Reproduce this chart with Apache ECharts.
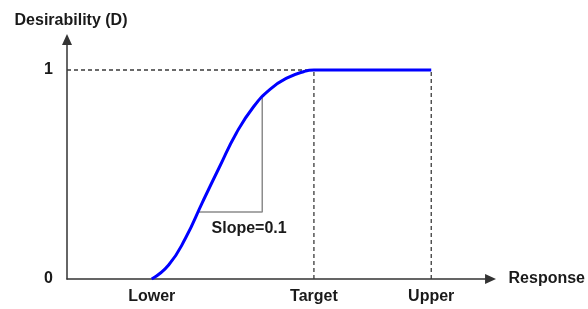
<!DOCTYPE html>
<html>
<head>
<meta charset="utf-8">
<script src="https://cdn.jsdelivr.net/npm/echarts@6/dist/echarts.min.js"></script>
<style>
  html, body { margin: 0; padding: 0; background: #fff; }
  #chart { width: 588px; height: 309px; }
</style>
</head>
<body>
<div id="chart"></div>
<script>
// desirability curve, x in arbitrary response units
let curveX = [20, 24, 28, 32, 36, 40, 44, 48, 52, 56, 58.3, 86];
let curveY = [0, 0.067, 0.196, 0.368, 0.536, 0.699, 0.823, 0.909, 0.962, 0.993, 1, 1];

// x positions of the three marked responses
let markNames = ['Lower', 'Target', 'Upper'];
let markValues = [20, 58.3, 86];

// slope triangle corners and its label
let slopeX = [30.8, 46.1, 46.1];
let slopeY = [0.32, 0.32, 0.866];
let slopeLabel = 'Slope=0.1';
let slopeLabelPos = [43, 0.24];

let yTicks = [0, 1];

let font = 'Liberation Sans, Arial, sans-serif';
let textColor = '#1a1a1a';

let zip = function(xs, ys){
    return xs.map((x, i) => [x, ys[i]]);
};

let dashStyle = {color: '#3a3a3a', width: 1.3, type: [4, 3]};
let dashed = function(points){
    return {
        type: 'line', data: points, symbol: 'none', silent: true,
        lineStyle: dashStyle, z: 1
    };
};

let chart = echarts.init(document.getElementById('chart'));

let option = {
    animation: false,
    grid: {left: 67, right: 95.5, top: 39.5, bottom: 30},
    xAxis: {
        type: 'value', min: 0, max: 100,
        name: 'Response', nameLocation: 'end', nameGap: 18,
        nameTextStyle: {fontFamily: font, fontWeight: 'bold', fontSize: 16, color: textColor, verticalAlign: 'middle'},
        axisLine: {lineStyle: {color: '#333', width: 1.5}, symbol: ['none', 'triangle'], symbolSize: [10, 11]},
        axisTick: {show: false},
        splitLine: {show: false},
        axisLabel: {
            customValues: markValues, margin: 10,
            fontFamily: font, fontWeight: 'bold', fontSize: 16, color: textColor,
            formatter: function(v){
                let i = markValues.findIndex(m => Math.abs(m - v) < 1e-6);
                return i >= 0 ? markNames[i] : '';
            }
        }
    },
    yAxis: {
        type: 'value', min: 0, max: 1.146,
        name: 'Desirability (D)', nameLocation: 'end', nameGap: 11,
        nameTextStyle: {fontFamily: font, fontWeight: 'bold', fontSize: 16, color: textColor, padding: [0, 0, 0, 8]},
        axisLine: {lineStyle: {color: '#333', width: 1.5}, symbol: ['none', 'triangle'], symbolSize: [10, 11]},
        axisTick: {show: false},
        splitLine: {show: false},
        axisLabel: {
            customValues: yTicks, margin: 14,
            fontFamily: font, fontWeight: 'bold', fontSize: 16, color: textColor
        }
    },
    series: [
        dashed([[0, 1], [markValues[1], 1]]),
        dashed([[markValues[1], 0], [markValues[1], 1]]),
        dashed([[markValues[2], 0], [markValues[2], 1]]),
        {
            type: 'line', data: zip(slopeX, slopeY), symbol: 'none', silent: true,
            lineStyle: {color: '#8c8c8c', width: 1.5}, z: 2
        },
        {
            type: 'scatter', data: [slopeLabelPos], symbolSize: 0, silent: true,
            itemStyle: {opacity: 1},
            label: {
                show: true, position: 'inside', formatter: slopeLabel,
                fontFamily: font, fontWeight: 'bold', fontSize: 16, color: textColor
            }
        },
        {
            type: 'line', data: zip(curveX, curveY), symbol: 'none', smooth: 0.5,
            silent: true,
            lineStyle: {color: '#0000ff', width: 3}, z: 5
        }
    ]
};
chart.setOption(option);
</script>
</body>
</html>
